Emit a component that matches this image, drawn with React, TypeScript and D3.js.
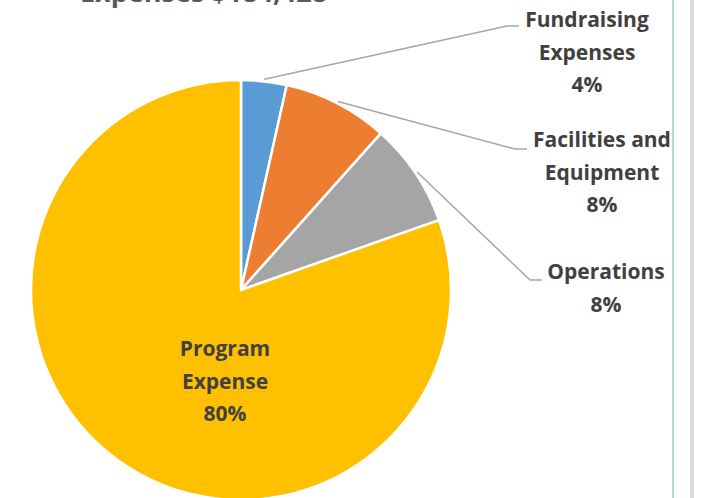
import React from "react";
import * as d3 from "d3";

const categories = ["Fundraising Expenses", "Facilities and Equipment", "Operations", "Program Expense"];
const shares = [3.5, 8.1, 8.0, 80.4];
const pctLabels = ["4%", "8%", "8%", "80%"];
const colors = ["#5B9BD5", "#ED7D31", "#A5A5A5", "#FFC000"];
const labelLines = [["Fundraising", "Expenses"], ["Facilities and", "Equipment"], ["Operations"], ["Program", "Expense"]];
const titleText = "Expenses $184,428";

const W = 702;
const H = 498;
const cx = 241;
const cy = 290;
const R = 210;
const font = "'Open Sans', Lato, sans-serif";
const textColor = "#404040";

// label anchors (centre x, first-line centre y) and leader line elbows
const labelPos = [
  { x: 587, y: 19, elbow: [507, 26], end: [519, 26] },
  { x: 602, y: 139, elbow: [515, 149], end: [527, 149] },
  { x: 606, y: 271, elbow: [530, 280], end: [542, 280] },
  { x: 225, y: 348, elbow: null, end: null },
];

export default function App() {
  const pie = d3.pie<number>().sort(null).value((d) => d);
  const arcs = pie(shares);
  const arc = d3.arc<d3.PieArcDatum<number>>().innerRadius(0).outerRadius(R);
  const lineH = 32.5;

  return (
    <svg width={W} height={H} style={{ position: "absolute", left: 0, top: 0, background: "#fff" }}>
      <rect x={0} y={0} width={W} height={H} fill="#fff" />
      <text x={80} y={2} fontFamily={font} fontWeight={700} fontSize={27} fill="#595959">
        {titleText}
      </text>
      <g transform={`translate(${cx},${cy})`}>
        {arcs.map((a, i) => (
          <path key={categories[i]} d={arc(a) || ""} fill={colors[i]} stroke="#fff" strokeWidth={2.5} strokeLinejoin="round" />
        ))}
      </g>
      {arcs.map((a, i) => {
        const p = labelPos[i];
        if (!p.elbow || !p.end) return null;
        const mid = (a.startAngle + a.endAngle) / 2;
        const sx = cx + (R + 2) * Math.sin(mid);
        const sy = cy - (R + 2) * Math.cos(mid);
        return (
          <polyline
            key={"l" + i}
            points={`${sx},${sy} ${p.elbow[0]},${p.elbow[1]} ${p.end[0]},${p.end[1]}`}
            fill="none"
            stroke="#A6A6A6"
            strokeWidth={1.5}
          />
        );
      })}
      {labelPos.map((p, i) => {
        const lines = [...labelLines[i], pctLabels[i]];
        return (
          <text key={"t" + i} fontFamily={font} fontWeight={700} fontSize={21} fill={textColor} textAnchor="middle">
            {lines.map((s, j) => (
              <tspan key={j} x={p.x} y={p.y + j * lineH} dominantBaseline="central">
                {s}
              </tspan>
            ))}
          </text>
        );
      })}
      <line x1={673} y1={0} x2={673} y2={H} stroke="#8FB8BA" strokeWidth={1.2} />
      <rect x={690} y={0} width={4} height={H} fill="#DADADA" />
    </svg>
  );
}
